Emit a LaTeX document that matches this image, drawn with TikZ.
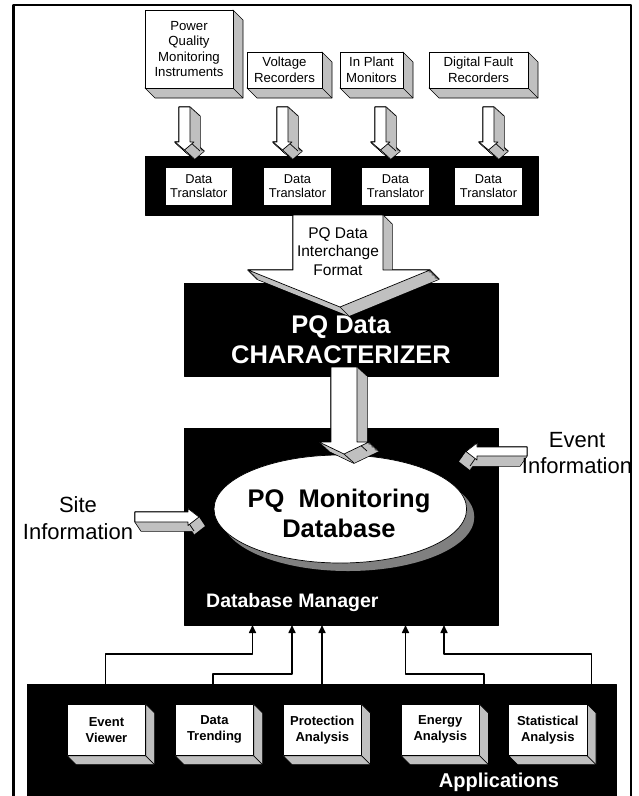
\documentclass[tikz,border=0pt]{standalone}
\usepackage{fontspec}
\setmainfont{Liberation Sans}
\usetikzlibrary{arrows.meta,shapes.geometric}
\definecolor{sidegray}{HTML}{C0C0C0}
\definecolor{shadowgray}{HTML}{808080}
\newcommand\fInst{\fontsize{13.2}{15.5}\selectfont}
\newcommand\fTrans{\fontsize{12.8}{14.3}\selectfont}
\newcommand\fPQ{\fontsize{15.5}{18.3}\selectfont}
\newcommand\fBig{\fontsize{25.5}{30}\selectfont\bfseries}
\newcommand\fMgr{\fontsize{19.5}{22}\selectfont\bfseries}
\newcommand\fInfo{\fontsize{22}{26.7}\selectfont}
\newcommand\fApp{\fontsize{13}{16}\selectfont\bfseries}
\newcommand\fApps{\fontsize{20}{24}\selectfont\bfseries}
% extruded arrow: #1 polygon (no cycle), #2 dx, #3 dy, #4 fold vertices x/y
\newcommand\solidarrow[4]{%
  \foreach \k in {0,...,12}{\path[draw=black,line width=1.4pt,fill=black,shift={({\k*(#2)/12},{\k*(#3)/12})}] #1 -- cycle;}
  \foreach \k in {0,...,12}{\path[fill=sidegray,shift={({\k*(#2)/12},{\k*(#3)/12})}] #1 -- cycle;}
  \foreach \fx/\fy in {#4}{\draw[line width=0.7pt] (\fx,\fy) -- ++(#2,#3);}
  \path[draw=black,line width=0.7pt,fill=white] #1 -- cycle;
}
% 3D box: #1 name, #2 x1, #3 y1, #4 x2, #5 y2, #6 depth, #7 font, #8 text
\newcommand\threebox[8]{%
  \path[draw=black,line width=0.7pt,fill=sidegray] (#4,#3) -- ({#4+#6},{#3+#6}) -- ({#4+#6},{#5+#6}) -- ({#2+#6},{#5+#6}) -- (#2,#5) -- (#4,#5) -- cycle;
  \draw[line width=0.7pt] (#4,#5) -- ({#4+#6},{#5+#6});
  \node[frontbox, font=#7, minimum width={#4-#2}, minimum height={#5-#3}] (#1) at ({(#2+#4)/2},{(#3+#5)/2}) {#8};
}
\begin{document}
\begin{tikzpicture}[x=1pt,y=-1pt,line join=round,
  frontbox/.style={draw=black,line width=0.7pt,fill=white,inner sep=0pt,align=center},
  blackbox/.style={fill=black,draw=black,inner sep=0pt},
  conn/.style={line width=1.6pt,-{Triangle[length=8pt,width=7pt]}},
  lbl/.style={inner sep=0pt,align=center}]
\useasboundingbox (0,0) rectangle (639,796);
\fill[white] (0,0) rectangle (639,796);
% outer frame
\draw[line width=2.5pt] (13.5,5) rectangle (631,812);

% instruments
\threebox{pqmi}{145}{10}{233}{88}{10}{\fInst}{Power\\Quality\\Monitoring\\Instruments}
\threebox{volt}{247}{52}{322}{88}{10}{\fInst}{Voltage\\Recorders}
\threebox{inpl}{340}{52}{403}{88}{10}{\fInst}{In Plant\\Monitors}
\threebox{dfr}{429}{52}{528}{88}{10}{\fInst}{Digital Fault\\Recorders}

% translator bar
\node[blackbox,minimum width=393,minimum height=59] (bar) at (341.5,185.5) {};
\node[frontbox,font=\fTrans,minimum width=67.5,minimum height=38] (tr1) at (198.8,186) {Data\\Translator};
\node[frontbox,font=\fTrans,minimum width=67.5,minimum height=38] (tr2) at (297.5,186) {Data\\Translator};
\node[frontbox,font=\fTrans,minimum width=67.5,minimum height=38] (tr3) at (395.5,186) {Data\\Translator};
\node[frontbox,font=\fTrans,minimum width=67.5,minimum height=38] (tr4) at (488.5,186) {Data\\Translator};

% small arrows
\solidarrow{(179,107) -- (190,107) -- (190,142) -- (194,142) -- (184.5,150) -- (175,142) -- (179,142)}{10}{9}{190/142,184.5/150}
\solidarrow{(277,107) -- (288,107) -- (288,142) -- (292,142) -- (282.5,150) -- (273,142) -- (277,142)}{10}{9}{288/142,282.5/150}
\solidarrow{(375,107) -- (386,107) -- (386,142) -- (390,142) -- (380.5,150) -- (371,142) -- (375,142)}{10}{9}{386/142,380.5/150}
\solidarrow{(483,107) -- (494,107) -- (494,142) -- (498,142) -- (488.5,150) -- (479,142) -- (483,142)}{10}{9}{494/142,488.5/150}

% characterizer
\node[blackbox,minimum width=314,minimum height=93] (char) at (341,329.5) {};
\solidarrow{(293,215) -- (383,215) -- (383,270) -- (430,270) -- (340,307) -- (248,270) -- (293,270)}{9}{9}{383/270,340/307}
\node[lbl,font=\fPQ] (pqfmt) at (338,251.5) {PQ Data\\Interchange\\Format};
\node[lbl,font=\fBig,text=white] (chartext) at (341,340) {PQ Data\\CHARACTERIZER};

% database
\node[blackbox,minimum width=314,minimum height=197] (db) at (341,526.5) {};
\fill[shadowgray] (348,517) ellipse [x radius=126.3,y radius=54];
\node[ellipse,draw=black,line width=0.7pt,fill=white,minimum width=252.6,minimum height=108,inner sep=0pt] (pqdb) at (340.3,509) {};
\node[lbl,font=\fBig] (pqdbtext) at (339,513) {PQ\hspace{0.556em}Monitoring\\Database};
\solidarrow{(331,367) -- (357,367) -- (357,442) -- (369,442) -- (344,454) -- (319,442) -- (331,442)}{10}{9}{357/442,344/454}
\node[lbl,font=\fMgr,text=white,anchor=west] (dbm) at (206,602) {Database Manager};

% site / event information
\solidarrow{(135,512) -- (188,512) -- (188,508.5) -- (199,517) -- (188,525.5) -- (188,522) -- (135,522)}{6}{9}{188/522}
\node[lbl,font=\fInfo] (site) at (78,518) {Site\\Information};
\solidarrow{(527,447) -- (477,447) -- (477,443) -- (466,451.5) -- (477,460) -- (477,456) -- (527,456)}{-7}{10}{477/456}
\node[lbl,font=\fInfo] (event) at (577,453) {Event\\Information};

% applications
\node[blackbox,minimum width=588.5,minimum height=130] (apps) at (321.75,749) {};
\threebox{evv}{67.2}{704}{145.7}{755.7}{9}{\fApp}{Event\\Viewer}
\threebox{dtr}{175.2}{704}{253.7}{755.7}{9}{\fApp}{Data\\Trending}
\threebox{pra}{283}{704}{361.5}{755.7}{9}{\fApp}{Protection\\Analysis}
\threebox{ena}{401}{704}{479.5}{755.7}{9}{\fApp}{Energy\\Analysis}
\threebox{sta}{508.5}{704}{587}{755.7}{9}{\fApp}{Statistical\\Analysis}
\node[lbl,font=\fApps,text=white] (appl) at (499,782) {Applications};

% connectors
\coordinate (c1) at (105.5,684); \coordinate (t1) at (252.5,625);
\coordinate (c2) at (213,684);   \coordinate (t2) at (292,625);
\coordinate (c3) at (322,684);   \coordinate (t3) at (322,625);
\coordinate (c4) at (484,684);   \coordinate (t4) at (405.5,625);
\coordinate (c5) at (591.5,684); \coordinate (t5) at (444,625);
\draw[conn] (c1) -- ++(0,-30) -| (t1);
\draw[conn] (c2) -- ++(0,-10) -| (t2);
\draw[conn] (c3) -- (t3);
\draw[conn] (c4) -- ++(0,-10) -| (t4);
\draw[conn] (c5) -- ++(0,-30) -| (t5);
\end{tikzpicture}
\end{document}
